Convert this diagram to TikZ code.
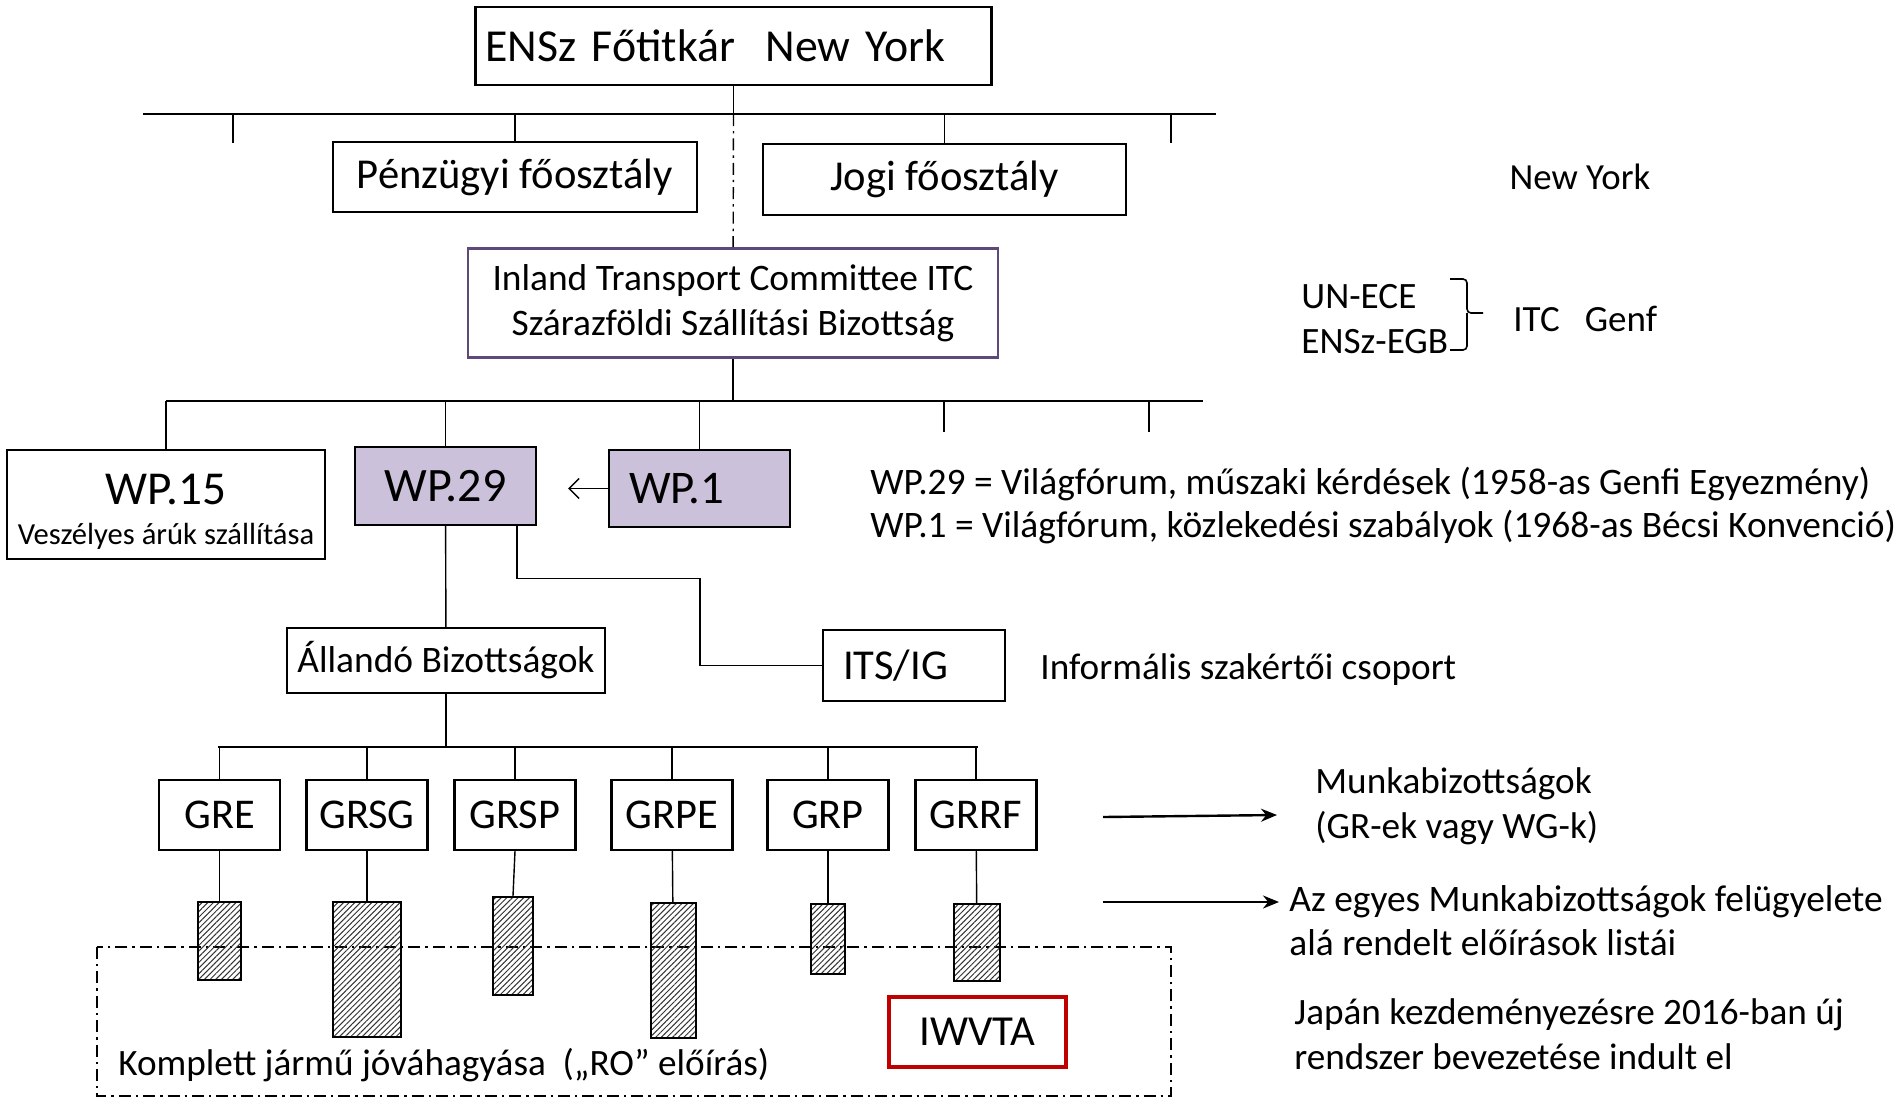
\documentclass[tikz,border=0pt]{standalone}
\usepackage{fontspec}
\setmainfont{Carlito}
\usetikzlibrary{arrows.meta, positioning, calc, patterns.meta}
\definecolor{itcpurple}{HTML}{5F497A}
\definecolor{wpfill}{HTML}{CCC1DA}
\definecolor{iwred}{HTML}{C00000}
\newcommand{\fsz}[2]{\fontsize{#1pt}{#2pt}\selectfont}

\begin{document}
\begin{tikzpicture}[
      x=0.5pt, y=-0.5pt,
      box/.style={draw, line width=1.2pt, inner sep=0pt},
      wpbox/.style={box, fill=wpfill},
      grbox/.style={box, minimum width=60.5pt, minimum height=35pt, font=\fsz{21.2}{24}},
      hatch/.style={draw, line width=1.1pt, inner sep=0pt, fill=white,
        pattern={Lines[angle=45, distance=2pt, line width=0.5pt]}, pattern color=black!80},
      link/.style={line width=0.7pt},
      bar/.style={line width=1pt},
      dashdot/.style={line width=0.8pt, dash pattern=on 6pt off 2.5pt on 1.2pt off 2.5pt},
      note/.style={anchor=west, align=left, inner sep=0pt, font=\fsz{18.6}{22.5}},
      >=Stealth
    ]
    \useasboundingbox (0,0) rectangle (1901,1099);

    \node [box, minimum height=39pt, text width=248pt, inner xsep=5pt, align=left,
      font=\fsz{22.9}{28}] (ensz) at (733.5,46) {ENSz Főtitkár\ \ New York};
    \node [box, minimum width=182pt, minimum height=35pt, font=\fsz{21.3}{24}] (penz) at (515,177) {Pénzügyi főosztály};
    \node [box, minimum width=181.5pt, minimum height=35.5pt, font=\fsz{21.3}{24}] (jogi) at (944.5,179.5) {Jogi főosztály};
    \node [box, draw=itcpurple, line width=1.4pt, minimum width=265pt, minimum height=54.5pt, align=center,
      font=\fsz{18.7}{22.5}] (itc) at (733,303) {Inland Transport Committee ITC\\Szárazföldi Szállítási Bizottság};

    \coordinate (nybarl) at (143,114);
    \coordinate (nybarr) at (1216,114);
    \draw [bar] (nybarl) -- (nybarr);
    \draw [link] (ensz) -- (ensz |- nybarl);
    \draw [link, dashdot, line width=0.7pt] (ensz |- nybarl) -- (itc);
    \draw [link] (penz.north |- nybarl) -- (penz.north);
    \draw [link] (jogi.north |- nybarl) -- (jogi.north);
    \coordinate (nystub1) at (233,143);
    \coordinate (nystub2) at (1171,143);
    \draw [link] (nystub1 |- nybarl) -- (nystub1);
    \draw [link] (nystub2 |- nybarl) -- (nystub2);

    \node [box, minimum width=159pt, minimum height=54.5pt, align=center, font=\fsz{15.3}{20}] (wp15) at (166,504.5)
      {{\rule{0pt}{22pt}\fsz{23.6}{20}WP.15}\\{Veszélyes árúk szállítása}};
    \node [wpbox, minimum width=90.5pt, minimum height=39pt, font=\fsz{24}{28}] (wp29) at (445.5,486) {WP.29};
    \node [wpbox, minimum height=38.5pt, text width=70.5pt, inner xsep=10pt, align=left,
      font=\fsz{23.4}{26}] (wp1) at (699.5,488.5) {WP.1};

    \coordinate (itbarl) at (166,401);
    \coordinate (itbarr) at (1203,401);
    \draw [bar] (itbarl) -- (itbarr);
    \draw [link] (itc) -- (itc |- itbarl);
    \draw [link] (wp15.north |- itbarl) -- (wp15.north);
    \draw [link] (wp29.north |- itbarl) -- (wp29.north);
    \draw [link] (wp1.north |- itbarl) -- (wp1.north);
    \coordinate (itstub1) at (944,432);
    \coordinate (itstub2) at (1149,432);
    \draw [link] (itstub1 |- itbarl) -- (itstub1);
    \draw [link] (itstub2 |- itbarl) -- (itstub2);
    \draw [link, -{Straight Barb[length=5pt, width=10pt]}, shorten >=15.5pt] (wp1.west) -- (wp29.east |- wp1.west);

    \node [box, minimum width=159pt, minimum height=32.5pt, font=\fsz{18.7}{22}] (allando) at (446,660.5) {Állandó Bizottságok};
    \node [box, minimum height=35.5pt, text width=71pt, inner xsep=10pt, align=left,
      font=\fsz{21.3}{24}] (its) at (914,665.5) {ITS/IG};
    \draw [link] (wp29) -- (allando);
    \draw [link] ([xshift=35.75pt]wp29.south) -- ++(0,52) -- ++(183,0) |- (its.west);

    \node [grbox] (gre)  at (219.5,815) {GRE};
    \node [grbox] (grsg) at (367,815)   {GRSG};
    \node [grbox] (grsp) at (515,815)   {GRSP};
    \node [grbox] (grpe) at (672,815)   {GRPE};
    \node [grbox] (grp)  at (828,815)   {GRP};
    \node [grbox] (grrf) at (976,815)   {GRRF};

    \coordinate (grbarl) at (218,747);
    \coordinate (grbarr) at (978,747);
    \draw [bar] (grbarl) -- (grbarr);
    \draw [link] (allando) -- (allando |- grbarl);
    \draw [link] (gre.north |- grbarl) -- (gre.north);
    \draw [link] (grsg.north |- grbarl) -- (grsg.north);
    \draw [link] (grsp.north |- grbarl) -- (grsp.north);
    \draw [link] (grpe.north |- grbarl) -- (grpe.north);
    \draw [link] (grp.north |- grbarl) -- (grp.north);
    \draw [link] (grrf.north |- grbarl) -- (grrf.north);

    \draw [dashdot] (97,947) rectangle (1171,1096);

    \node [hatch, minimum width=21.5pt, minimum height=39pt]   (hgre)  at (219.5,941) {};
    \node [hatch, minimum width=34pt,   minimum height=67.5pt] (hgrsg) at (367,969.5) {};
    \node [hatch, minimum width=20pt,   minimum height=49pt]   (hgrsp) at (513,946) {};
    \node [hatch, minimum width=22.5pt, minimum height=67.5pt] (hgrpe) at (673.5,970.5) {};
    \node [hatch, minimum width=17pt,   minimum height=35pt]   (hgrp)  at (828,939) {};
    \node [hatch, minimum width=23pt,   minimum height=38.5pt] (hgrrf) at (977,942.5) {};
    \draw [link] (gre) -- (hgre);
    \draw [link] (grsg) -- (hgrsg);
    \draw [link] (grsp.south) -- (hgrsp.north);
    \draw [link] (grpe) -- (hgrpe);
    \draw [link] (grp) -- (hgrp);
    \draw [link] (grrf) -- (hgrrf);

    \node [box, draw=iwred, line width=1.6pt, minimum width=88.5pt, minimum height=35pt,
      font=\fsz{21.4}{24}] (iwvta) at (977.5,1032) {IWVTA};
    \node [note, font=\fsz{18.6}{22}] (komplett) at (118,1065) {Komplett jármű jóváhagyása\ \ („RO” előírás)};

    \node [font=\fsz{18.4}{22}, inner sep=0pt] (newyork) at (1580,177) {New York};
    \node [note] (unece) at (1301,319) {UN-ECE\\ENSz-EGB};
    \node [note, font=\fsz{18.5}{22}] (genf) at (1513,319) {ITC\ \ \ Genf};
    \draw [line width=0.8pt, rounded corners=2pt] (1450,279) -| (1467,313) -- (1483,313);
    \draw [line width=0.8pt, rounded corners=2pt] (1467,313) |- (1450,350);

    \node [note, font=\fsz{18.7}{21.5}] (wpnote) at (870,505.5)
      {WP.29 = Világfórum, műszaki kérdések (1958-as Genfi Egyezmény)\\WP.1 = Világfórum, közlekedési szabályok (1968-as Bécsi Konvenció)};
    \node [note] (itsnote) at (1040,670) {Informális szakértői csoport};
    \node [note] (grnote) at (1315,806.5) {Munkabizottságok\\(GR-ek vagy WG-k)};
    \node [note, font=\fsz{18.7}{22}] (listnote) at (1289,921) {Az egyes Munkabizottságok felügyelete\\alá rendelt előírások listái};
    \node [note] (japnote) at (1294,1034.5) {Japán kezdeményezésre 2016-ban új\\rendszer bevezetése indult el};

    \coordinate (grarrs) at (1103,817);
    \coordinate (grarre) at (1277,815);
    \coordinate (lsarrs) at (1103,902);
    \coordinate (lsarre) at (1279,902);
    \draw [line width=1.2pt, -{Stealth[length=8pt, width=6.5pt]}] (grarrs) -- (grarre);
    \draw [line width=1.2pt, -{Stealth[length=8pt, width=6.5pt]}] (lsarrs) -- (lsarre);
    \end{tikzpicture}
\end{document}
